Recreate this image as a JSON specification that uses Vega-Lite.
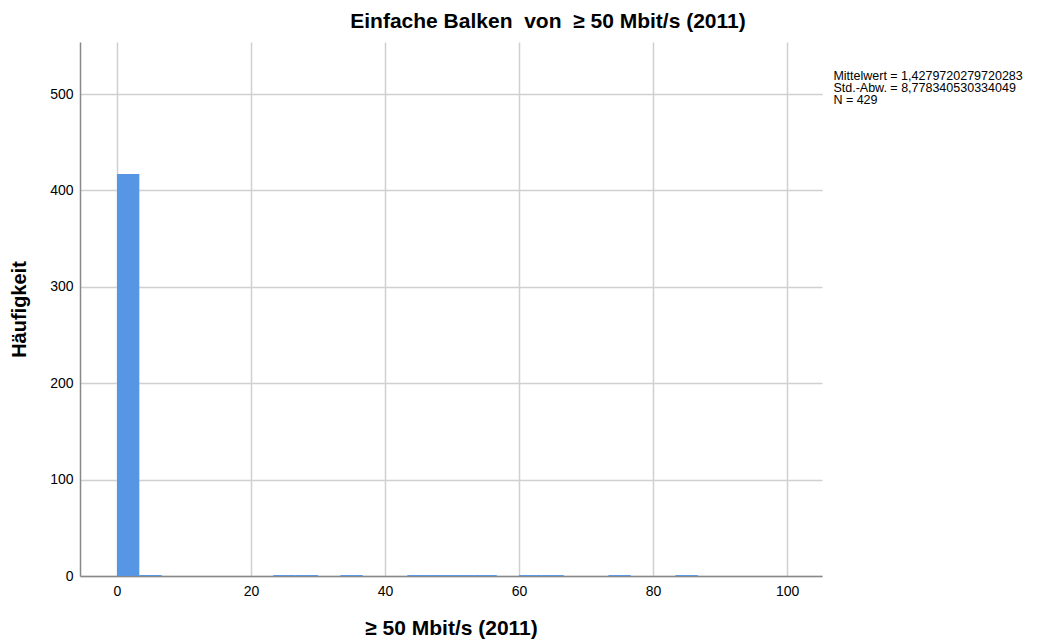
{
  "$schema": "https://vega.github.io/schema/vega-lite/v6.json",
  "autosize": "none",
  "width": 742,
  "height": 534,
  "padding": {"left": 80, "top": 42, "right": 229, "bottom": 68},
  "background": "white",
  "title": {
    "text": "Einfache Balken\u00a0 von\u00a0 ≥ 50 Mbit/s (2011)",
    "font": "Liberation Sans",
    "fontSize": 21,
    "fontWeight": "bold",
    "color": "#000000",
    "anchor": "middle",
    "frame": "group",
    "dx": 97,
    "offset": 10
  },
  "config": {
    "view": {"stroke": null},
    "axis": {
      "labelFont": "Liberation Sans",
      "labelFontSize": 14,
      "labelColor": "#000000",
      "titleFont": "Liberation Sans",
      "titleFontWeight": "bold",
      "titleColor": "#000000",
      "gridColor": "#d0d0d0",
      "gridWidth": 1.5,
      "domainColor": "#888888",
      "domainWidth": 1.5,
      "ticks": false
    }
  },
  "layer": [
    {
      "data": {
        "values": [
          {"start": 0, "end": 3.333, "count": 417},
          {"start": 3.333, "end": 6.667, "count": 1},
          {"start": 23.333, "end": 26.667, "count": 1},
          {"start": 26.667, "end": 30, "count": 1},
          {"start": 33.333, "end": 36.667, "count": 1},
          {"start": 43.333, "end": 46.667, "count": 1},
          {"start": 46.667, "end": 50, "count": 1},
          {"start": 50, "end": 53.333, "count": 1},
          {"start": 53.333, "end": 56.667, "count": 1},
          {"start": 60, "end": 63.333, "count": 1},
          {"start": 63.333, "end": 66.667, "count": 1},
          {"start": 73.333, "end": 76.667, "count": 1},
          {"start": 83.333, "end": 86.667, "count": 1}
        ]
      },
      "mark": {"type": "bar", "color": "#5796e4", "stroke": null},
      "encoding": {
        "x": {
          "field": "start",
          "type": "quantitative",
          "scale": {"domain": [-5.52, 105.2], "nice": false, "zero": false},
          "axis": {
            "title": "≥ 50 Mbit/s (2011)",
            "titleFontSize": 21,
            "values": [0, 20, 40, 60, 80, 100],
            "labelPadding": 8,
            "titlePadding": 19
          }
        },
        "x2": {"field": "end"},
        "y": {
          "field": "count",
          "type": "quantitative",
          "scale": {"domain": [0, 554], "nice": false},
          "axis": {
            "title": "Häufigkeit",
            "titleFontSize": 20,
            "values": [0, 100, 200, 300, 400, 500],
            "labelPadding": 7,
            "titlePadding": 20
          }
        },
        "y2": {"datum": 0}
      }
    },
    {
      "data": {
        "values": [
          {"xpos": 106.9, "ypos": 518.7, "label": "Mittelwert = 1,4279720279720283"},
          {"xpos": 106.9, "ypos": 506.2, "label": "Std.-Abw. = 8,778340530334049"},
          {"xpos": 106.9, "ypos": 493.8, "label": "N = 429"}
        ]
      },
      "mark": {
        "type": "text",
        "align": "left",
        "baseline": "middle",
        "font": "Liberation Sans",
        "fontSize": 12.5,
        "color": "#000000",
        "clip": false
      },
      "encoding": {
        "x": {"field": "xpos", "type": "quantitative"},
        "y": {"field": "ypos", "type": "quantitative"},
        "text": {"field": "label"}
      }
    }
  ]
}
